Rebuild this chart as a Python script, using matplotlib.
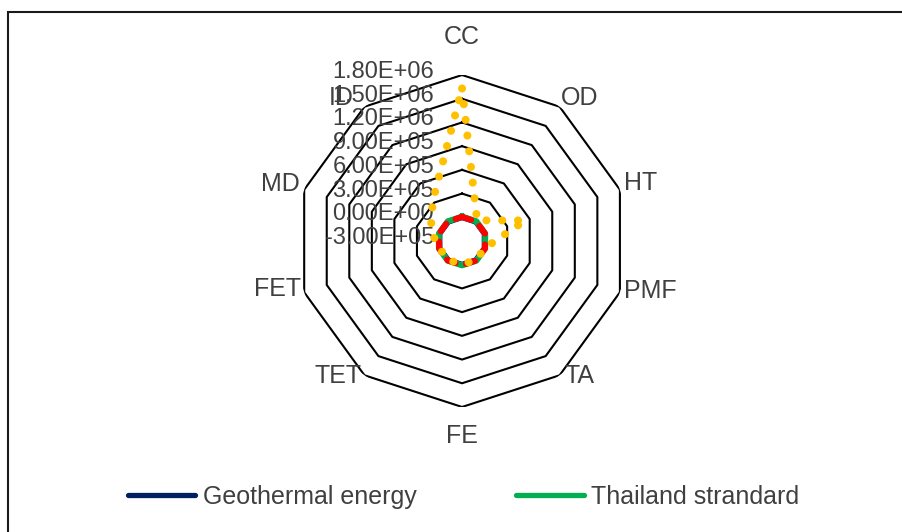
import numpy as np
import matplotlib
matplotlib.use("Agg")
import matplotlib.pyplot as plt
from matplotlib.lines import Line2D
from matplotlib.patches import Rectangle

plt.rcParams['font.family'] = ['Liberation Sans', 'DejaVu Sans']

# categories, clockwise from the top
categories = ['CC', 'OD', 'HT', 'PMF', 'TA', 'FE', 'TET', 'FET', 'MD', 'ID']

# series values
geothermal = [2.0e3, 1.0e3, 1.5e3, 1.0e3, 1.0e3, 1.0e3, 1.0e3, 1.0e3, 1.0e3, 1.0e3]
thailand_std = [8.0e3, 8.0e3, 8.0e3, 8.0e3, 8.0e3, 8.0e3, 8.0e3, 8.0e3, 8.0e3, 8.0e3]
red_series = [5.0e3, 5.0e3, 5.0e3, 5.0e3, 5.0e3, 5.0e3, 5.0e3, 5.0e3, 5.0e3, 5.0e3]
orange_series = [1.63e6, 2.3e4, 5.4e5, -2.0e3, 3.0e3, -1.0e4, 0.0, 0.0, 1.17e5, 3.3e5]

levels = [-3.0e5, 0.0, 3.0e5, 6.0e5, 9.0e5, 1.2e6, 1.5e6, 1.8e6]
tick_labels = ['-3.00E+05', '0.00E+00', '3.00E+05', '6.00E+05',
               '9.00E+05', '1.20E+06', '1.50E+06', '1.80E+06']

# label offsets (pixels) from the outer vertex
label_offsets = [(0, 38), (20, 9), (21, 7), (30, 1), (20, -1),
                 (0, -29), (-26, -1), (-27, 3), (-24, 6), (-23, 9)]

txt_color = '#404040'

fig = plt.figure(figsize=(9.02, 5.32), dpi=100)
ax = fig.add_axes([0.3282, 0.235, 0.3681, 0.624], projection='polar')
ax.set_theta_zero_location('N')
ax.set_theta_direction(-1)
ax.set_ylim(levels[0], levels[-1])
ax.grid(False)
ax.set_xticks([])
ax.set_yticks([])
ax.spines['polar'].set_visible(False)
ax.patch.set_visible(False)

n = len(categories)
theta = np.linspace(0, 2 * np.pi, n, endpoint=False)
th = np.append(theta, theta[0])

def closed(v):
    return v + v[:1]

# decagon gridlines
for lv in levels[1:]:
    ax.plot(th, [lv] * (n + 1), color='black', lw=1.5, zorder=1)

ax.plot(th, closed(geothermal), color='#002060', lw=4.3, zorder=2)
ax.plot(th, closed(thailand_std), color='#00B050', lw=4.3, zorder=3)
ax.plot(th, closed(red_series), color='#FF0000', lw=4.3, zorder=4,
        linestyle=(0, (1.6, 1.8)), dash_capstyle='round')
ax.plot(th, closed(orange_series), color='#FFC000', lw=5.8, zorder=5,
        linestyle=(0, (0.01, 1.95)), dash_capstyle='round')

for lv, lab in zip(levels, tick_labels):
    ax.annotate(lab, xy=(0, lv), xytext=(-28, 3), textcoords='offset pixels',
                ha='right', va='center', fontsize=17, color=txt_color,
                annotation_clip=False)

for t, cat, off in zip(theta, categories, label_offsets):
    ax.annotate(cat, xy=(t, levels[-1]), xytext=off, textcoords='offset pixels',
                ha='center', va='center', fontsize=18, color=txt_color,
                annotation_clip=False)

handles = [Line2D([], [], color='#002060', lw=3.8, solid_capstyle='round'),
           Line2D([], [], color='#00B050', lw=3.8, solid_capstyle='round')]
fig.legend(handles, ['Geothermal energy', 'Thailand strandard'],
           loc='center', bbox_to_anchor=(0.514, 0.066), ncol=2, frameon=False,
           fontsize=18, labelcolor=txt_color, handlelength=2.7,
           handletextpad=0.3, columnspacing=4.0)

fig.patches.append(Rectangle((8 / 902, -0.1), 1.2, 1 - 11.5 / 532 + 0.1,
                             transform=fig.transFigure, fill=False,
                             edgecolor='#1a1a1a', lw=1.5))

fig.savefig('out.png', dpi=100)
